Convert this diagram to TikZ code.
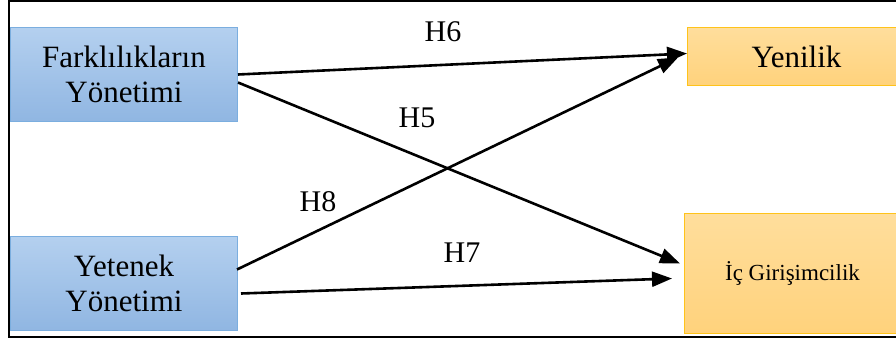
\documentclass[tikz,border=0pt]{standalone}
\usepackage{fontspec}
\setmainfont{Liberation Serif}
\usetikzlibrary{positioning,arrows.meta,calc}
\definecolor{blueTop}{HTML}{B4D0EF}
\definecolor{blueBot}{HTML}{90B6E2}
\definecolor{blueEdge}{HTML}{7BAEDF}
\definecolor{orTop}{HTML}{FFDE9C}
\definecolor{orBot}{HTML}{FFD27C}
\definecolor{orEdge}{HTML}{FFC31A}

\begin{document}
\begin{tikzpicture}[
    x=1pt, y=1pt,
    src/.style={draw=blueEdge, line width=1pt, top color=blueTop, bottom color=blueBot,
                minimum width=227pt, minimum height=94pt, inner sep=0pt,
                align=center, font=\fontsize{31}{35}\selectfont},
    dst/.style={draw=orEdge, line width=1pt, top color=orTop, bottom color=orBot,
                inner sep=0pt, align=center},
    arr/.style={-{Triangle[length=20pt,width=15pt]}, line width=2.6pt},
    lbl/.style={font=\fontsize{30}{34}\selectfont, inner sep=0pt},
  ]
    \useasboundingbox (0,0) rectangle (896,-342);

    % Frame
    \draw[line width=2.5pt] (9,-1) rectangle (910,-337);

    % Independent variables
    \node[src, anchor=north west] (farklilik) at (10,-27) {Farklılıkların\\Yönetimi};
    \node[src, below=114pt of farklilik] (yetenek) {Yetenek\\Yönetimi};

    % Dependent variables
    \node[dst, anchor=north west, minimum width=218pt, minimum height=58pt,
          font=\fontsize{31}{35}\selectfont] (yenilik) at (687,-27) {Yenilik};
    \node[dst, anchor=north west, minimum width=216pt, minimum height=120pt,
          font=\fontsize{23}{27}\selectfont] (ic) at (684,-213) {İç Girişimcilik};

    % Hypotheses
    \draw[arr] (farklilik.east) -- ($(yenilik.west)+(0,3)$);
    \draw[arr] ($(farklilik.east)+(0,-8)$) -- ($(ic.west)+(-4,10)$);
    \draw[arr] ($(yetenek.east)+(-1,14)$) -- ($(yenilik.west)+(-9,-1)$);
    \draw[arr] ($(yetenek.east)+(3,-10)$) -- ($(ic.west)+(-12,-5)$);

    % Labels
    \node[lbl] (h6) at (443,-32)  {H6};
    \node[lbl] (h5) at (417,-118) {H5};
    \node[lbl] (h8) at (318,-202) {H8};
    \node[lbl] (h7) at (462,-253) {H7};
  \end{tikzpicture}
\end{document}
